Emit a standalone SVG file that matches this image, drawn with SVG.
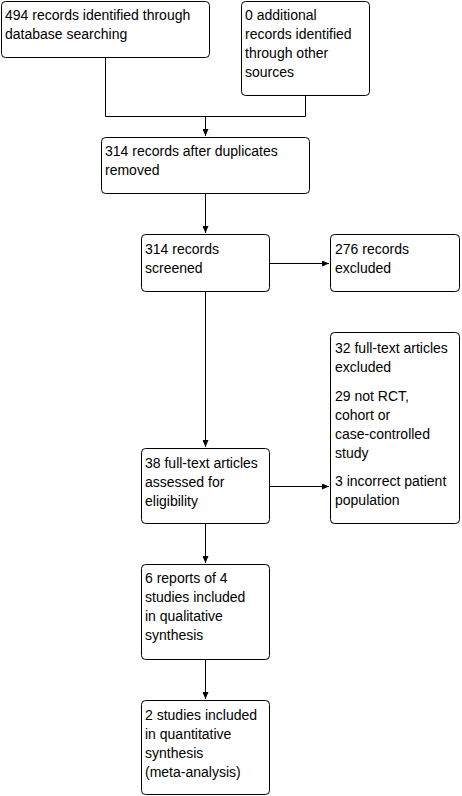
<svg xmlns="http://www.w3.org/2000/svg" width="462" height="796" viewBox="0 0 462 796">
<style>
.box{fill:#fff;stroke:#000;stroke-width:1}
text{font-family:"Liberation Sans",Arial,sans-serif;font-size:14px;fill:#000}
.c{fill:none;stroke:#000;stroke-width:1}
</style>
<defs>
<marker id="ah" markerWidth="8" markerHeight="6" refX="7" refY="3" orient="auto" markerUnits="userSpaceOnUse">
<path d="M0,0 L7,3 L0,6 Z" fill="#000"/>
</marker>
</defs>
<rect width="462" height="796" fill="#fff"/>
<g id="connectors">
<path class="c" d="M105.5,57 V116.5 H305.5 V95"/>
<path class="c" d="M205.5,116.5 V136" marker-end="url(#ah)"/>
<path class="c" d="M205.5,193 V233" marker-end="url(#ah)"/>
<path class="c" d="M269,263.5 H329" marker-end="url(#ah)"/>
<path class="c" d="M205.5,291 V447" marker-end="url(#ah)"/>
<path class="c" d="M269,486.5 H329" marker-end="url(#ah)"/>
<path class="c" d="M205.5,523 V563" marker-end="url(#ah)"/>
<path class="c" d="M205.5,659 V699" marker-end="url(#ah)"/>
</g>
<g id="n1"><rect class="box" x="1.5" y="1.5" width="208" height="56" rx="4"/>
<text x="5" y="20">494 records identified through</text><text x="5" y="39">database searching</text></g>
<g id="n2"><rect class="box" x="241.5" y="1.5" width="128" height="94" rx="4"/>
<text x="245" y="20">0 additional</text><text x="245" y="39">records identified</text><text x="245" y="58">through other</text><text x="245" y="77">sources</text></g>
<g id="n3"><rect class="box" x="101.5" y="137.5" width="208" height="56" rx="4"/>
<text x="105" y="156">314 records after duplicates</text><text x="105" y="175">removed</text></g>
<g id="n4"><rect class="box" x="141.5" y="234.5" width="128" height="57" rx="4"/>
<text x="145" y="254">314 records</text><text x="145" y="273">screened</text></g>
<g id="n5"><rect class="box" x="330.5" y="234.5" width="129" height="57" rx="4"/>
<text x="335" y="254">276 records</text><text x="335" y="273">excluded</text></g>
<g id="n6"><rect class="box" x="330.5" y="332.5" width="129" height="191" rx="4"/>
<text x="335" y="353">32 full-text articles</text><text x="335" y="372">excluded</text>
<text x="335" y="401">29 not RCT,</text><text x="335" y="420">cohort or</text><text x="335" y="439">case-controlled</text><text x="335" y="458">study</text>
<text x="335" y="486">3 incorrect patient</text><text x="335" y="505">population</text></g>
<g id="n7"><rect class="box" x="141.5" y="448.5" width="128" height="75" rx="4"/>
<text x="145" y="468">38 full-text articles</text><text x="145" y="487">assessed for</text><text x="145" y="506">eligibility</text></g>
<g id="n8"><rect class="box" x="141.5" y="564.5" width="128" height="95" rx="4"/>
<text x="145" y="583">6 reports of 4</text><text x="145" y="602">studies included</text><text x="145" y="621">in qualitative</text><text x="145" y="640">synthesis</text></g>
<g id="n9"><rect class="box" x="141.5" y="700.5" width="128" height="94" rx="4"/>
<text x="145" y="720">2 studies included</text><text x="145" y="739">in quantitative</text><text x="145" y="758">synthesis</text><text x="145" y="777">(meta-analysis)</text></g>
</svg>
